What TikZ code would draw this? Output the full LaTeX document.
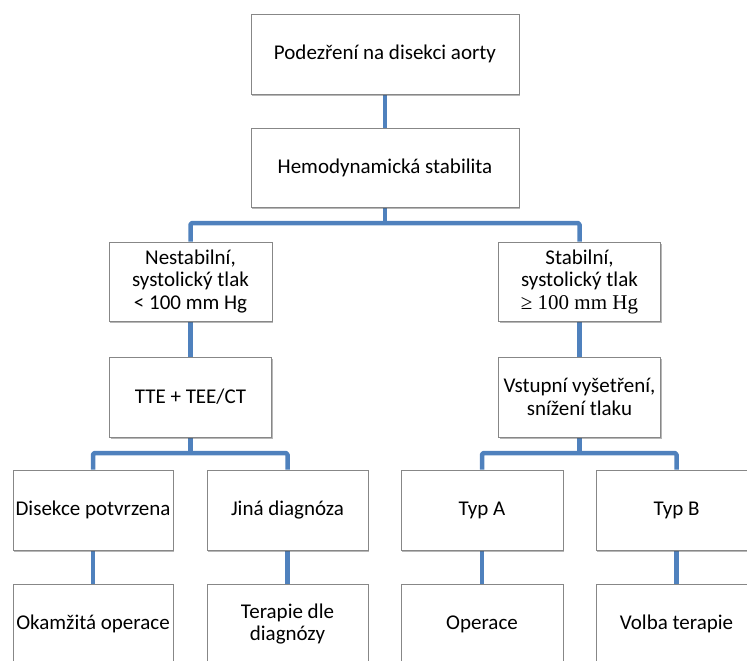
\documentclass[tikz,border=0pt]{standalone}
\usepackage{fontspec}
\setmainfont{Carlito}
\newfontfamily\timesfont{Liberation Serif}
\usetikzlibrary{shadows,backgrounds}
\definecolor{connblue}{RGB}{79,129,189}
\definecolor{boxgray}{RGB}{135,135,135}
\begin{document}
\begin{tikzpicture}[x=1pt,y=-1pt,
  box/.style={draw=boxgray, fill=white, line width=0.8pt, align=center, inner sep=0pt,
    font=\fontsize{21}{22.5}\selectfont,
    drop shadow={shadow xshift=1.2pt, shadow yshift=-1.6pt, opacity=0.4, fill=black!70}},
  conn/.style={draw=connblue, line width=4.5pt, line join=round, rounded corners=1.5pt}]
\useasboundingbox (0,0) rectangle (747,661);
\clip (0,0) rectangle (747,661);
% boxes
\node[box, minimum width=268pt, minimum height=80pt] (top) at (385,54) {Podezření na disekci aorty};
\node[box, minimum width=268pt, minimum height=79pt] (hemo) at (385,167.5) {Hemodynamická stabilita};
\node[box, minimum width=163pt, minimum height=79pt] (nest) at (190.5,281.5) {Nestabilní,\\systolický tlak\\< 100 mm Hg};
\node[box, minimum width=162pt, minimum height=79pt] (stab) at (579.5,281.5) {Stabilní,\\systolický tlak\\{\timesfont ≥ 100 mm Hg}};
\node[box, minimum width=162pt, minimum height=80pt] (tte) at (190.5,397) {TTE + TEE/CT};
\node[box, minimum width=162pt, minimum height=80pt] (vst) at (579.5,397) {Vstupní vyšetření,\\snížení tlaku};
\node[box, minimum width=160pt, minimum height=80pt] (dis) at (93,510) {Disekce potvrzena};
\node[box, minimum width=161pt, minimum height=80pt] (jina) at (287.5,510) {Jiná diagnóza};
\node[box, minimum width=162pt, minimum height=80pt] (typa) at (482,510) {Typ A};
\node[box, minimum width=161pt, minimum height=80pt] (typb) at (676.5,510) {Typ B};
\node[box, minimum width=160pt, minimum height=80pt] (okam) at (93,624) {Okamžitá operace};
\node[box, minimum width=161pt, minimum height=80pt] (ter) at (287.5,624) {Terapie dle\\diagnózy};
\node[box, minimum width=162pt, minimum height=80pt] (oper) at (482,624) {Operace};
\node[box, minimum width=161pt, minimum height=80pt] (volba) at (676.5,624) {Volba terapie};
% junction points of the bars
\coordinate (j1) at (385,223);
\coordinate (j2) at (190.5,453);
\coordinate (j3) at (579.5,453);
% connectors
\begin{scope}[on background layer]
\draw[conn] (top) -- (hemo);
\draw[conn] (hemo.south) -- (j1);
\draw[conn] (nest.north) |- (j1) -| (stab.north);
\draw[conn] (nest) -- (tte);
\draw[conn] (stab) -- (vst);
\draw[conn] (tte.south) -- (j2);
\draw[conn] (dis.north) |- (j2) -| (jina.north);
\draw[conn] (vst.south) -- (j3);
\draw[conn] (typa.north) |- (j3) -| (typb.north);
\draw[conn] (dis) -- (okam);
\draw[conn] (jina) -- (ter);
\draw[conn] (typa) -- (oper);
\draw[conn] (typb) -- (volba);
\end{scope}
\end{tikzpicture}
\end{document}
